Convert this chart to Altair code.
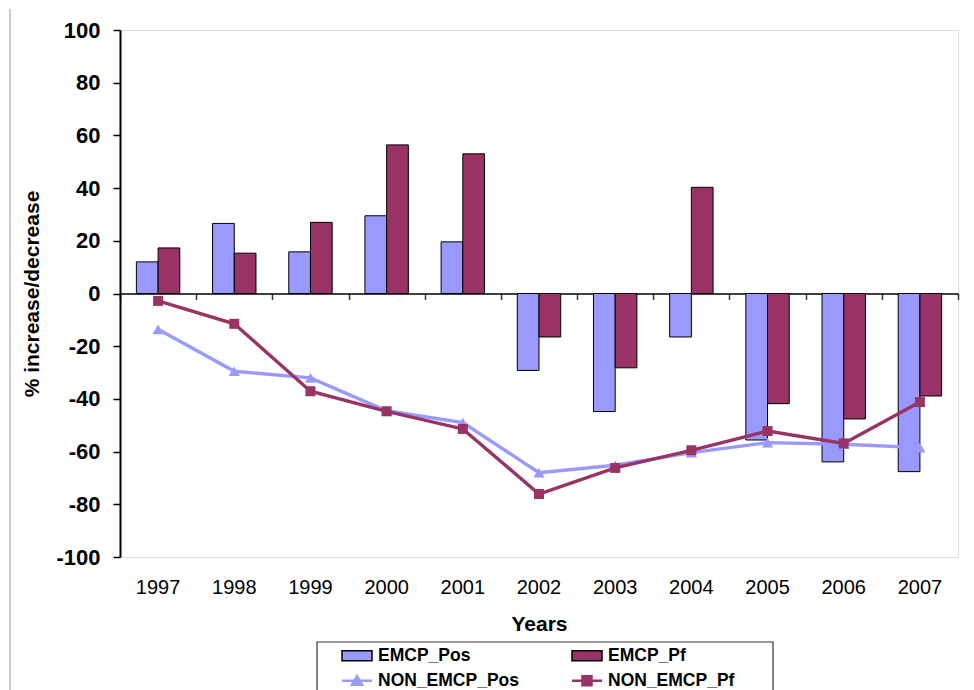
import altair as alt
import pandas as pd

years = ["1997", "1998", "1999", "2000", "2001", "2002", "2003", "2004", "2005", "2006", "2007"]
emcp_pos = [12.0, 26.6, 15.8, 29.5, 19.6, -29.2, -44.8, -16.5, -55.6, -63.9, -67.6]
emcp_pf = [17.3, 15.3, 27.0, 56.4, 53.0, -16.5, -28.2, 40.3, -41.8, -47.6, -38.9]
non_emcp_pos = [-13.6, -29.5, -32.0, -44.5, -49.0, -68.0, -65.2, -60.4, -56.6, -57.2, -58.5]
non_emcp_pf = [-2.8, -11.5, -37.1, -44.7, -51.4, -76.1, -66.2, -59.5, -52.2, -56.9, -41.2]

series_names = ["EMCP_Pos", "EMCP_Pf", "NON_EMCP_Pos", "NON_EMCP_Pf"]
legend_cols = [0, 1, 0, 1]
legend_rows = [0, 0, 1, 1]
y_ticks = list(range(-100, 101, 20))

COL_POS = "#9999FF"
COL_PF = "#993366"
FONT = "Liberation Sans"

bars_df = pd.DataFrame(
    {"year": years * 2,
     "series": ["EMCP_Pos"] * len(years) + ["EMCP_Pf"] * len(years),
     "value": emcp_pos + emcp_pf}
)
pos_df = pd.DataFrame({"year": years, "series": "NON_EMCP_Pos", "value": non_emcp_pos})
pf_df = pd.DataFrame({"year": years, "series": "NON_EMCP_Pf", "value": non_emcp_pf})
legend_df = pd.DataFrame({"series": series_names, "col": legend_cols, "row": legend_rows})

x_scale = alt.Scale(domain=years, paddingInner=0, paddingOuter=0)
y_scale = alt.Scale(domain=[-100, 100], nice=False, zero=False)

y_axis = alt.Axis(
    values=y_ticks, grid=False, title="% increase/decrease",
    labelExpr="'' + datum.value",
    labelFont=FONT, labelFontSize=22, labelFontWeight="bold", labelColor="black",
    labelPadding=13, tickSize=7, tickColor="black", tickWidth=1.5,
    domainColor="black", domainWidth=2,
    titleFont=FONT, titleFontSize=21, titleFontWeight="bold", titleColor="black",
    titlePadding=13,
)
y_enc = alt.Y("value:Q", scale=y_scale, axis=y_axis)

label_axis = alt.Axis(
    orient="bottom", title="Years", domain=False, ticks=False, tickSize=0,
    labelFont=FONT, labelFontSize=20, labelColor="black", labelPadding=20, labelAngle=0,
    titleFont=FONT, titleFontSize=21, titleFontWeight="bold", titleColor="black",
    titlePadding=16, grid=False,
)
zero_axis = alt.Axis(
    orient="bottom", title=None, labels=False, offset=-263.5, tickBand="extent",
    domainColor="black", domainWidth=1.5, tickColor="#333333", tickWidth=1.5, tickSize=6,
    grid=False,
)

color_scale = alt.Scale(domain=["EMCP_Pos", "EMCP_Pf"], range=[COL_POS, COL_PF])

bars = alt.Chart(bars_df).mark_bar(stroke="black", strokeWidth=1).encode(
    x=alt.X("year:N", scale=x_scale, axis=label_axis),
    xOffset=alt.XOffset("series:N", sort=["EMCP_Pos", "EMCP_Pf"],
                        scale=alt.Scale(domain=["EMCP_Pos", "EMCP_Pf"], paddingInner=0, paddingOuter=0.755)),
    y=y_enc,
    color=alt.Color("series:N", scale=color_scale, legend=None),
)

line_pos = alt.Chart(pos_df).mark_line(strokeWidth=3.4, color=COL_POS).encode(
    x=alt.X("year:N", scale=x_scale, axis=zero_axis),
    y=y_enc,
)
pts_pos = alt.Chart(pos_df).mark_point(shape="triangle-up", filled=True, size=125, opacity=1, color=COL_POS).encode(
    x=alt.X("year:N", scale=x_scale, axis=None),
    y=y_enc,
)
line_pf = alt.Chart(pf_df).mark_line(strokeWidth=3.4, color=COL_PF).encode(
    x=alt.X("year:N", scale=x_scale, axis=None),
    y=y_enc,
)
pts_pf = alt.Chart(pf_df).mark_point(shape="square", filled=True, size=100, opacity=1, color=COL_PF).encode(
    x=alt.X("year:N", scale=x_scale, axis=None),
    y=y_enc,
)

main = alt.layer(bars, line_pos, pts_pos, line_pf, pts_pf).resolve_axis(x="independent")

# ---- legend (drawn with its own scales below the plot) ----
lx = alt.X("col:Q", scale=alt.Scale(domain=[0, 1], range=[237, 467]), axis=None)
ly = alt.Y("row:Q", scale=alt.Scale(domain=[0, 1], range=[625.7, 650.7]), axis=None)
leg_base = alt.Chart(legend_df)

frame = leg_base.mark_rect(fill="white", stroke="#333333", strokeWidth=1.2).encode(
    x=alt.value(197), x2=alt.value(653), y=alt.value(612), y2=alt.value(680)
).transform_filter("datum.series == 'EMCP_Pos'")

outer_border = leg_base.mark_rule(color="#999999", strokeWidth=1).encode(
    x=alt.value(-110), y=alt.value(-21), y2=alt.value(680)
).transform_filter("datum.series == 'EMCP_Pos'")

RECT = "M-1.5,-0.5H1.5V0.5H-1.5Z"
TRI = "M-1.5,0H1.5M-0.5,0.4L0,-0.45L0.5,0.4Z"
SQR = "M-1.5,0H1.5M-0.45,-0.45H0.45V0.45H-0.45Z"

sym_emcp_pos = leg_base.mark_point(shape=RECT, size=400, filled=True, fill=COL_POS, stroke="black",
                                   strokeWidth=1.5, opacity=1).encode(x=lx, y=ly).transform_filter(
    "datum.series == 'EMCP_Pos'")
sym_emcp_pf = leg_base.mark_point(shape=RECT, size=400, filled=True, fill=COL_PF, stroke="black",
                                  strokeWidth=1.5, opacity=1).encode(x=lx, y=ly).transform_filter(
    "datum.series == 'EMCP_Pf'")
sym_non_pos = leg_base.mark_point(shape=TRI, size=400, filled=True, fill=COL_POS, stroke=COL_POS,
                                  strokeWidth=2.5, opacity=1).encode(x=lx, y=ly).transform_filter(
    "datum.series == 'NON_EMCP_Pos'")
sym_non_pf = leg_base.mark_point(shape=SQR, size=400, filled=True, fill=COL_PF, stroke=COL_PF,
                                 strokeWidth=2.5, opacity=1).encode(x=lx, y=ly).transform_filter(
    "datum.series == 'NON_EMCP_Pf'")
leg_text = leg_base.mark_text(align="left", baseline="middle", dx=21, font=FONT, fontSize=17.5,
                              fontWeight="bold", color="black").encode(x=lx, y=ly, text="series:N")

legend = alt.layer(outer_border, frame, sym_emcp_pos, sym_emcp_pf, sym_non_pos, sym_non_pf, leg_text)

chart = alt.layer(main, legend).resolve_scale(
    x="independent", y="independent"
).properties(
    width=838, height=527,
    autosize=alt.AutoSizeParams(type="none"),
    padding={"left": 112, "top": 22, "right": 8, "bottom": 140},
).configure_view(
    stroke="#7f7f7f", strokeWidth=2
).configure(background="white")

chart.save("out.html", embed_options={"renderer": "svg", "actions": False})
